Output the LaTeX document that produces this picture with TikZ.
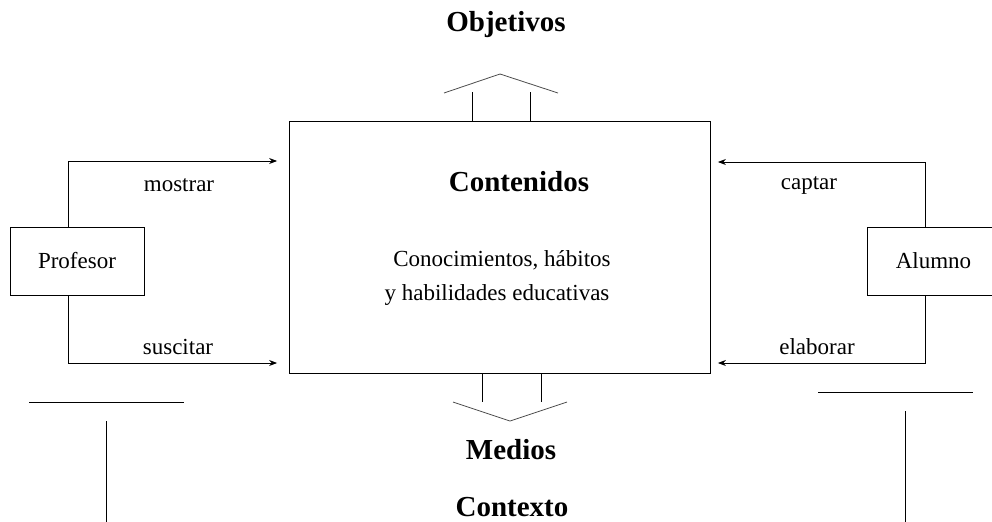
\documentclass[tikz,border=0pt]{standalone}
\usepackage{fontspec}
\setmainfont{Liberation Serif}
\usetikzlibrary{arrows.meta}
\tikzset{
	box/.style={draw, thin, inner sep=0pt},
	heading/.style={font=\fontsize{14.5}{16}\selectfont\bfseries, inner sep=0pt},
	word/.style={font=\fontsize{11.5}{13}\selectfont, inner sep=0pt},
	flow/.style={thin, -{Stealth[length=4pt,width=3pt]}, shorten >=6pt},
	chevron/.style={thin, black!70},
}

\begin{document}
\begin{tikzpicture}[x=0.5pt,y=-0.5pt]
			%%%%% START %%%%%
			\useasboundingbox (0,0) rectangle (992,521);
			
			\node[box, minimum width=210.5pt, minimum height=126pt] (cont) at (500,247) {};
			\node[heading] (contTitle) at (519,182) {Contenidos};
			\node[word] (know1) at (502,260) {Conocimientos, hábitos};
			\node[word] (know2) at (497,295) {y habilidades educativas};
			
			\node[box, word, minimum width=67pt, minimum height=34pt] (prof) at (77,261) {Profesor};
			\node[box, word, minimum width=66.5pt, minimum height=34pt] (alum) at (933.5,261) {Alumno};
			
			\coordinate (profTop) at (68,161);
			\coordinate (profBot) at (68,363);
			\coordinate (alumTop) at (925,162);
			\coordinate (alumBot) at (925,363);
			
			\draw[flow] (prof.north -| profTop) -- (profTop) -- (cont.west |- profTop);
			\draw[flow] (prof.south -| profBot) -- (profBot) -- (cont.west |- profBot);
			\draw[flow, shorten >=3.5pt] (alum.north -| alumTop) -- (alumTop) -- (cont.east |- alumTop);
			\draw[flow, shorten >=3.5pt] (alum.south -| alumBot) -- (alumBot) -- (cont.east |- alumBot);
			
			\node[word] (mostrar) at (179,185) {mostrar};
			\node[word] (suscitar) at (178,347) {suscitar};
			\node[word] (captar) at (809,185) {captar};
			\node[word] (elaborar) at (817,347) {elaborar};
			
			% arrow up
			\coordinate (upL) at (472,92);
			\coordinate (upR) at (530,92);
			\draw[thin] (upL |- cont.north) -- (upL);
			\draw[thin] (upR |- cont.north) -- (upR);
			\draw[chevron] (444,93) -- (500,74) -- (558,93);
			\node[heading] (obj) at (506,25) {Objetivos};
			
			% arrow down
			\coordinate (downL) at (482,402);
			\coordinate (downR) at (541,402);
			\draw[thin] (downL |- cont.south) -- (downL);
			\draw[thin] (downR |- cont.south) -- (downR);
			\draw[chevron] (453,402) -- (510,421) -- (567,402);
			\node[heading] (medios) at (511,450) {Medios};
			\node[heading, anchor=base] (contexto) at (512,516) {Contexto};
			
			\draw[thin] (29,402) -- (184,402);
			\draw[thin] (106,421) -- (106,530);
			\draw[thin] (818,392) -- (973,392);
			\draw[thin] (905,411) -- (905,530);
			
			%%%%% END %%%%%
\end{tikzpicture}
\end{document}
